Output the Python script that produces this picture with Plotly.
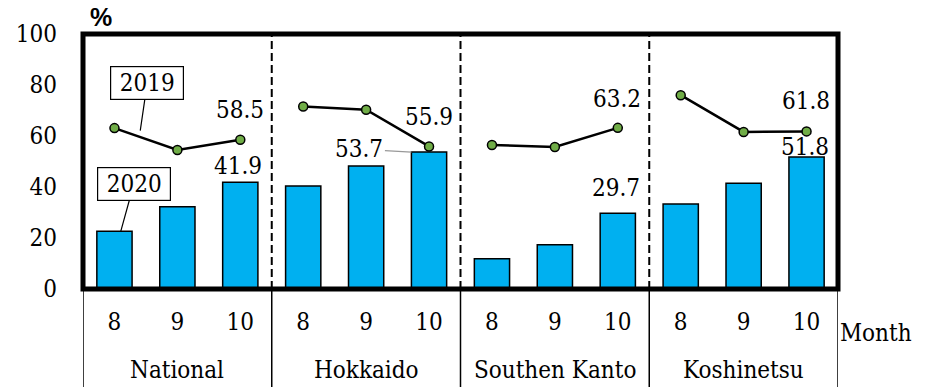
import plotly.graph_objects as go

# Occupancy data by region, months 8-10
regions = ["National", "Hokkaido", "Southen Kanto", "Koshinetsu"]
months = ["8", "9", "10"]
occ_2020 = [
    [22.6, 32.3, 41.9],
    [40.4, 48.2, 53.7],
    [11.9, 17.4, 29.7],
    [33.3, 41.5, 51.8],
]
occ_2019 = [
    [63.1, 54.5, 58.5],
    [71.6, 70.3, 55.9],
    [56.5, 55.7, 63.2],
    [76.0, 61.6, 61.8],
]
y_ticks = [0, 20, 40, 60, 80, 100]

SERIF = "DejaVu Serif Condensed, DejaVu Serif, serif"
FS = 24
n_m = len(months)

# flat positions on a numeric axis: one slot per (region, month)
bar_x, bar_y, tick_x, tick_text = [], [], [], []
line_x, line_y = [], []
for gi, reg in enumerate(regions):
    for mi, m in enumerate(months):
        pos = gi * n_m + mi
        bar_x.append(pos)
        bar_y.append(occ_2020[gi][mi])
        tick_x.append(pos)
        tick_text.append(m)
        line_x.append(pos)
        line_y.append(occ_2019[gi][mi])
    line_x.append(None)
    line_y.append(None)

fig = go.Figure()
fig.add_trace(go.Bar(
    x=bar_x, y=bar_y, width=0.56,
    marker=dict(color="#00B0F0", line=dict(color="black", width=1.5)),
    name="2020", showlegend=False,
))
fig.add_trace(go.Scatter(
    x=line_x, y=line_y, mode="lines+markers", connectgaps=False,
    line=dict(color="black", width=2.5),
    marker=dict(size=9, color="#70AD47", line=dict(color="black", width=1.5)),
    name="2019", showlegend=False,
))

x_lo, x_hi = -0.5, len(regions) * n_m - 0.5
annotations = []
shapes = []

# value labels on the last month of each region
lab_2019_shift = [(0, 30), (0, 29), (-1, 29), (-1, 30)]
lab_2020_shift = [(-2, 16), None, (-2, 25), (-2, 10)]
for gi in range(len(regions)):
    last = gi * n_m + n_m - 1
    v19 = occ_2019[gi][-1]
    v20 = occ_2020[gi][-1]
    dx, dy = lab_2019_shift[gi]
    annotations.append(dict(x=last, y=v19, xref="x", yref="y", text=f"{v19:.1f}",
                            showarrow=False, xshift=dx, yshift=dy,
                            font=dict(family=SERIF, size=FS, color="black")))
    if lab_2020_shift[gi] is None:
        # label pulled to the left with a thin leader line
        annotations.append(dict(x=last - 0.28, y=v20, xref="x", yref="y", text=f"{v20:.1f}",
                                showarrow=True, arrowhead=0, arrowwidth=1.2,
                                arrowcolor="#999999", ax=-52, ay=-3, standoff=0,
                                font=dict(family=SERIF, size=FS, color="black")))
    else:
        dx, dy = lab_2020_shift[gi]
        annotations.append(dict(x=last, y=v20, xref="x", yref="y", text=f"{v20:.1f}",
                                showarrow=False, xshift=dx, yshift=dy,
                                font=dict(family=SERIF, size=FS, color="black")))

# series callouts
annotations.append(dict(x=0.41, y=62.1, xref="x", yref="y", text="2019",
                        showarrow=True, arrowhead=0, arrowwidth=1.2, arrowcolor="black",
                        ax=7, ay=-48, standoff=0, bordercolor="black", borderwidth=1.2,
                        borderpad=2, bgcolor="white", width=68, height=28,
                        font=dict(family=SERIF, size=FS, color="black")))
annotations.append(dict(x=0.1, y=occ_2020[0][0], xref="x", yref="y", text="2020",
                        showarrow=True, arrowhead=0, arrowwidth=1.2, arrowcolor="black",
                        ax=13, ay=-47, standoff=0, bordercolor="black", borderwidth=1.2,
                        borderpad=2, bgcolor="white", width=68, height=28,
                        font=dict(family=SERIF, size=FS, color="black")))

# region names under the month labels
for gi, reg in enumerate(regions):
    annotations.append(dict(x=gi * n_m + (n_m - 1) / 2, y=-0.318, xref="x", yref="paper",
                            text=reg, showarrow=False, yanchor="middle",
                            font=dict(family=SERIF, size=FS, color="black")))

annotations.append(dict(x=1.0, y=-0.173, xref="paper", yref="paper", text="Month",
                        showarrow=False, xanchor="left", yanchor="middle",
                        font=dict(family=SERIF, size=FS, color="black")))
annotations.append(dict(x=0.0235, y=1.067, xref="paper", yref="paper", text="<b>%</b>",
                        showarrow=False, xanchor="center", yanchor="middle",
                        font=dict(family="Liberation Sans, Arial, sans-serif", size=25,
                                  color="black")))
annotations.append(dict(x=0.494, y=1.137, xref="paper", yref="paper",
                        text="Occupancy rates of hotels in each district (2020)",
                        showarrow=False, xanchor="center", yanchor="bottom",
                        font=dict(family=SERIF, size=31, color="black")))

# dashed separators between regions inside the plot
for gi in range(1, len(regions)):
    xb = gi * n_m - 0.5
    shapes.append(dict(type="line", xref="x", yref="paper", x0=xb, x1=xb, y0=0, y1=1,
                       line=dict(color="black", width=2, dash="8px,4px")))
# category table lines below the axis
for gi in range(len(regions) + 1):
    xb = gi * n_m - 0.5
    shapes.append(dict(type="line", xref="x", yref="paper", x0=xb, x1=xb, y0=0, y1=-0.4,
                       line=dict(color="black", width=1.5)))
# heavy frame around the plot area
shapes.append(dict(type="rect", xref="paper", yref="paper", x0=0, x1=1, y0=0, y1=1,
                   line=dict(color="black", width=5)))

fig.update_layout(
    width=928, height=387,
    margin=dict(l=83, r=89.5, t=34, b=98),
    plot_bgcolor="white", paper_bgcolor="white",
    annotations=annotations, shapes=shapes,
    font=dict(family=SERIF, color="black"),
)
fig.update_xaxes(range=[x_lo, x_hi], tickvals=tick_x, ticktext=tick_text,
                 showgrid=False, zeroline=False, showline=False,
                 ticks="", ticklabelstandoff=16,
                 tickfont=dict(family=SERIF, size=FS, color="black"))
fig.update_yaxes(range=[0, 100], tickvals=y_ticks,
                 showgrid=False, zeroline=False, showline=False,
                 ticks="", ticklabelstandoff=25,
                 tickfont=dict(family=SERIF, size=FS, color="black"))

fig.write_html("out.html")
